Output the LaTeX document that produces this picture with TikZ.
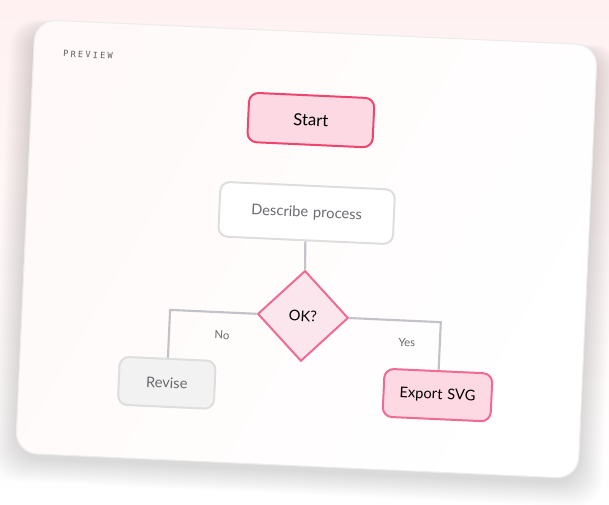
\documentclass[tikz,border=0pt]{standalone}
\usepackage{fontspec}
\setmainfont{Lato}
\setmonofont{DejaVu Sans Mono}
\usetikzlibrary{shapes.geometric,positioning}
\definecolor{pinkbd}{HTML}{EE4570}
\definecolor{pinkfl}{HTML}{FDD9E3}
\definecolor{diabd}{HTML}{F06A92}
\definecolor{diafl}{HTML}{FCE6EE}
\definecolor{linegray}{HTML}{C2C2C8}
\definecolor{boxgray}{HTML}{DEDEDF}
\definecolor{txtgray}{HTML}{6A6A70}
\tikzset{
  box/.style={draw, rounded corners=7pt, line width=1.5pt, align=center, inner sep=0pt},
  link/.style={draw=linegray, line width=1.6pt},
  lbl/.style={text=txtgray, font=\fontsize{8.5}{9}\selectfont}
}
\begin{document}
\begin{tikzpicture}[x=0.75pt,y=-0.75pt]
%background
\shade[top color=pink!22, bottom color=white] (0,0) rectangle (609,505);
\useasboundingbox (0,0) rectangle (609,505);

\begin{scope}[rotate around={-2.6:(306,249)}, transform shape]
%Shape: card shadow
\foreach \o in {2,4,...,24}
  \fill[black, opacity=0.012, rounded corners=20pt] (25-\o,40-\o/3) rectangle (588+\o,470+\o);
%Shape: card
\shade[rounded corners=16pt, left color=pink!9, right color=white, shading angle=60, draw=gray!15, line width=0.8pt] (25,32) rectangle (588,466);

% Text Node
\node[anchor=west, text=gray!75!black] (title) at (50,65) {\ttfamily\fontsize{6.5}{7}\selectfont\addfontfeature{LetterSpace=25}PREVIEW};

\node[box, draw=pinkbd, fill=pinkfl, minimum height=37pt, text width=94pt, font=\fontsize{12.5}{14}\selectfont] (start) at (305,120) {Start};
\node[box, draw=boxgray, fill=white, minimum height=41pt, text width=131pt, text=txtgray, font=\fontsize{11}{12}\selectfont] (desc) at (305,213) {Describe process};
\node[diamond, draw=diabd, fill=diafl, line width=1.5pt, minimum size=68pt, inner sep=0pt, font=\fontsize{11}{12}\selectfont] (ok) at (306,316) {OK?};
\node[box, draw=boxgray, fill=gray!10, minimum height=36pt, text width=72pt, text=txtgray, font=\fontsize{11}{12}\selectfont] (revise) at (173,389) {Revise};
\node[box, draw=diabd, fill=pinkfl, minimum height=36pt, text width=81pt, font=\fontsize{11}{12}\selectfont] (export) at (444,389) {Export SVG};

\draw[link] (desc.south) -- (ok.north);
\draw[link] (ok.west) -| (revise.north);
\draw[link] (ok.east) -| (export.north);

\node[lbl] (no) at (226,339) {No};
\node[lbl] (yes) at (411,338) {Yes};
\end{scope}
\end{tikzpicture}
\end{document}
